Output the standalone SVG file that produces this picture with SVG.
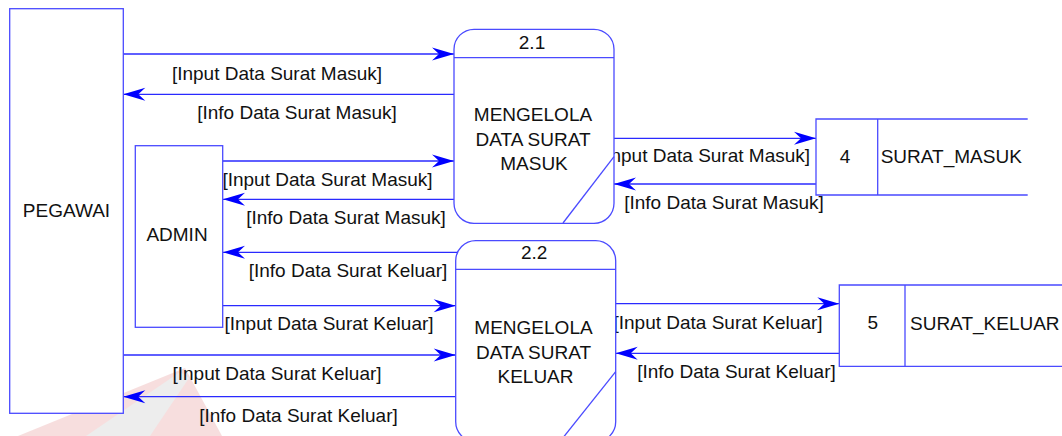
<svg xmlns="http://www.w3.org/2000/svg" width="1062" height="436" viewBox="0 0 1062 436">
  <style>
    .box { fill: #ffffff; stroke: #4a4aff; stroke-width: 1.3; }
    .edge { fill: none; stroke: #4a4aff; stroke-width: 1.3; }
    .flow { fill: none; stroke: #2a2aff; stroke-width: 1.3; }
    .t { font-family: "Liberation Sans", Arial, sans-serif; font-size: 19px; fill: #111111; }
    .mid { text-anchor: middle; }
  </style>
  <defs>
    <marker id="head" viewBox="-23 -8 24 16" refX="0" refY="0" markerWidth="24" markerHeight="16" markerUnits="userSpaceOnUse" orient="auto">
      <path d="M0,0 L-22,-6.5 L-15,0 L-22,6.5 Z" fill="#0000ff"/>
    </marker>
  </defs>

  <rect width="1062" height="436" fill="#ffffff"/>

  <!-- faint backdrop emblem -->
  <g id="backdrop" opacity="0.6">
    <polygon points="185,368 222,436 18,436" fill="#f3c9c9"/>
    <polygon points="180,372 189,378 150,436 86,436" fill="#e2e2e2"/>
  </g>

  <!-- data flows -->
  <g id="connectors">
    <line class="flow" x1="123" y1="54" x2="454" y2="54" marker-end="url(#head)"/>
    <text class="t mid" x="277" y="80">[Input Data Surat Masuk]</text>

    <line class="flow" x1="454" y1="94.3" x2="123.3" y2="94.3" marker-end="url(#head)"/>
    <text class="t mid" x="297" y="119">[Info Data Surat Masuk]</text>

    <line class="flow" x1="223" y1="161" x2="454" y2="161" marker-end="url(#head)"/>
    <text class="t mid" x="327.5" y="186">[Input Data Surat Masuk]</text>

    <line class="flow" x1="454" y1="199.3" x2="223" y2="199.3" marker-end="url(#head)"/>
    <text class="t mid" x="346" y="224">[Info Data Surat Masuk]</text>

    <line class="flow" x1="460" y1="252.3" x2="223" y2="252.3" marker-end="url(#head)"/>
    <text class="t mid" x="348" y="277">[Info Data Surat Keluar]</text>

    <line class="flow" x1="223" y1="305.7" x2="455.7" y2="305.7" marker-end="url(#head)"/>
    <text class="t mid" x="329" y="330">[Input Data Surat Keluar]</text>

    <line class="flow" x1="123.3" y1="355" x2="455.7" y2="355" marker-end="url(#head)"/>
    <text class="t mid" x="277" y="380">[Input Data Surat Keluar]</text>

    <line class="flow" x1="455.7" y1="396.7" x2="123.3" y2="396.7" marker-end="url(#head)"/>
    <text class="t mid" x="298.5" y="421.7">[Info Data Surat Keluar]</text>

    <line class="flow" x1="614" y1="138.3" x2="816" y2="138.3" marker-end="url(#head)"/>
    <text class="t mid" x="705" y="162.3">[Input Data Surat Masuk]</text>

    <line class="flow" x1="816" y1="184" x2="614" y2="184" marker-end="url(#head)"/>
    <text class="t mid" x="724" y="209">[Info Data Surat Masuk]</text>

    <line class="flow" x1="615.7" y1="303.7" x2="839.3" y2="303.7" marker-end="url(#head)"/>
    <text class="t mid" x="718" y="329">[Input Data Surat Keluar]</text>

    <line class="flow" x1="839.3" y1="353.3" x2="615.7" y2="353.3" marker-end="url(#head)"/>
    <text class="t mid" x="736.5" y="378">[Info Data Surat Keluar]</text>
  </g>

  <!-- external entity: PEGAWAI -->
  <g id="pegawai">
    <rect class="box" x="9.7" y="8.7" width="113.6" height="404.6"/>
    <text class="t mid" x="66.5" y="217">PEGAWAI</text>
  </g>

  <!-- external entity: ADMIN -->
  <g id="admin">
    <rect class="box" x="135.3" y="145.7" width="87.4" height="181.6"/>
    <text class="t mid" x="177" y="240.7">ADMIN</text>
  </g>

  <!-- process 2.1 -->
  <g id="proc-2-1">
    <rect class="box" x="454" y="29.3" width="160" height="194" rx="20" ry="20"/>
    <line class="edge" x1="454" y1="57.7" x2="614" y2="57.7"/>
    <line class="edge" x1="614" y1="156.7" x2="563" y2="223"/>
    <text class="t mid" x="532" y="49.3">2.1</text>
    <text class="t mid" x="533" y="120.7">MENGELOLA</text>
    <text class="t mid" x="533" y="145.7">DATA SURAT</text>
    <text class="t mid" x="534" y="170">MASUK</text>
  </g>

  <!-- process 2.2 (runs past the lower edge) -->
  <g id="proc-2-2">
    <rect class="box" x="455.7" y="240.7" width="160" height="201" rx="20" ry="20"/>
    <line class="edge" x1="455.7" y1="269.3" x2="615.7" y2="269.3"/>
    <line class="edge" x1="615.7" y1="371.7" x2="562" y2="439"/>
    <text class="t mid" x="534.2" y="259">2.2</text>
    <text class="t mid" x="533.5" y="334">MENGELOLA</text>
    <text class="t mid" x="533.5" y="359">DATA SURAT</text>
    <text class="t mid" x="535.5" y="383">KELUAR</text>
  </g>

  <!-- data store 4 -->
  <g id="store-4">
    <rect x="816" y="119" width="212" height="76" fill="#ffffff"/>
    <path class="edge" d="M1027.7,119 H816 V195 H1027.7 M877.7,119 V195"/>
    <text class="t mid" x="845" y="163">4</text>
    <text class="t" x="880.7" y="163">SURAT_MASUK</text>
  </g>

  <!-- data store 5 -->
  <g id="store-5">
    <rect x="839.3" y="285" width="223" height="81.3" fill="#ffffff"/>
    <path class="edge" d="M1062,285 H839.3 V366.3 H1062 M905,285 V366.3"/>
    <text class="t mid" x="872.7" y="329">5</text>
    <text class="t" x="910" y="330">SURAT_KELUAR</text>
  </g>
</svg>
